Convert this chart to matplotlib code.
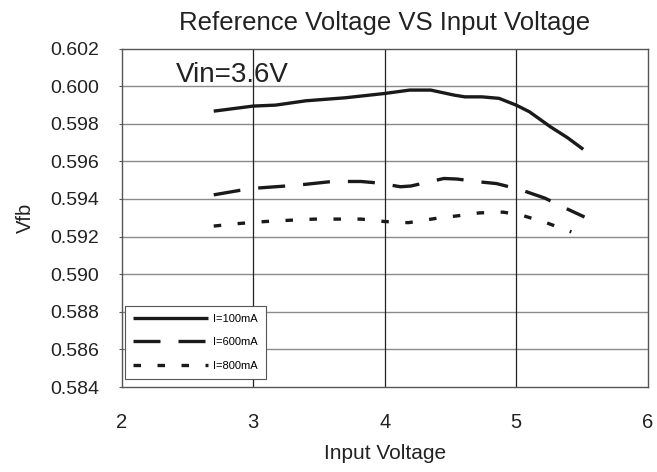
import matplotlib
matplotlib.use("Agg")
import matplotlib.pyplot as plt

plt.rcParams['font.family'] = ['Liberation Sans', 'DejaVu Sans']

x_100 = [2.70, 3.00, 3.17, 3.40, 3.70, 4.00, 4.19, 4.35, 4.53, 4.61, 4.74, 4.87, 5.00, 5.10, 5.26, 5.39, 5.51]
v_100 = [0.59867, 0.59894, 0.59899, 0.59922, 0.59938, 0.59961, 0.59979, 0.59979, 0.59952, 0.59943,
         0.59943, 0.59935, 0.59899, 0.59864, 0.59784, 0.59726, 0.59664]

x_600 = [2.70, 2.90, 3.05, 3.25, 3.40, 3.60, 3.82, 3.95, 4.12, 4.20, 4.45, 4.55, 4.72, 4.85, 5.03, 5.22, 5.36, 5.52]
v_600 = [0.59422, 0.59446, 0.59459, 0.59469, 0.59478, 0.59493, 0.59493, 0.59485, 0.59465, 0.59469,
         0.59509, 0.59506, 0.59491, 0.59482, 0.59450, 0.59404, 0.59356, 0.59304]

x_800 = [2.70, 2.90, 3.09, 3.28, 3.47, 3.64, 3.82, 4.00, 4.18, 4.42, 4.55, 4.72, 4.90, 5.03, 5.22, 5.42]
v_800 = [0.59256, 0.59270, 0.59280, 0.59287, 0.59293, 0.59293, 0.59293, 0.59280, 0.59274, 0.59300,
         0.59310, 0.59326, 0.59330, 0.59316, 0.59276, 0.59225]

labels = ['I=100mA', 'I=600mA', 'I=800mA']
x_ticks = [2, 3, 4, 5, 6]
y_ticks = [0.584, 0.586, 0.588, 0.590, 0.592, 0.594, 0.596, 0.598, 0.600, 0.602]

fig = plt.figure(figsize=(6.57, 4.72), dpi=100)
ax = fig.add_axes([0.1852, 0.180, 0.8006, 0.7172])

lw = 2.4
ax.plot(x_100, v_100, color='#1a1a1a', lw=lw, solid_capstyle='butt', label=labels[0])
ax.plot(x_600, v_600, color='#1a1a1a', lw=lw, dashes=(8.1, 5.4), dash_capstyle='butt', label=labels[1])
ax.plot(x_800, v_800, color='#1a1a1a', lw=lw, dashes=(2.25, 4.95), dash_capstyle='butt', label=labels[2])

ax.set_xlim(2, 6)
ax.set_ylim(0.584, 0.602)
ax.set_xticks(x_ticks)
ax.set_yticks(y_ticks)
ax.set_yticklabels([f'{v:.3f}' for v in y_ticks])

for v in y_ticks[1:-1]:
    ax.axhline(v, color='#8a8a8a', lw=1.0, zorder=0.5)
for v in x_ticks[1:-1]:
    ax.axvline(v, color='#222222', lw=0.9, zorder=0.5)

for s in ax.spines.values():
    s.set_color('#555555')
    s.set_linewidth(1.0)

ax.tick_params(axis='y', length=2, width=0.8, color='#555555', labelsize=14, pad=14, labelcolor='#222222')
ax.tick_params(axis='x', length=0, labelsize=14.5, pad=18.5, labelcolor='#222222')

ax.set_title('Reference Voltage VS Input Voltage', fontsize=18.5, pad=13, color='#222222')
ax.set_xlabel('Input Voltage', fontsize=15, labelpad=9, color='#222222')
ax.set_ylabel('Vfb', fontsize=14.5, labelpad=11.5, color='#222222')

ax.text(2.41, 0.60022, 'Vin=3.6V', fontsize=20, va='baseline', ha='left', color='#222222')

leg = ax.legend(loc='lower left', bbox_to_anchor=(0.006, 0.024), borderaxespad=0, fontsize=8,
                handlelength=6.75, handleheight=0.7, frameon=True, fancybox=False,
                edgecolor='#555555', framealpha=1, borderpad=0.75, labelspacing=1.2,
                handletextpad=0.45)
leg.get_frame().set_linewidth(0.8)

fig.savefig('out.png', dpi=100)
